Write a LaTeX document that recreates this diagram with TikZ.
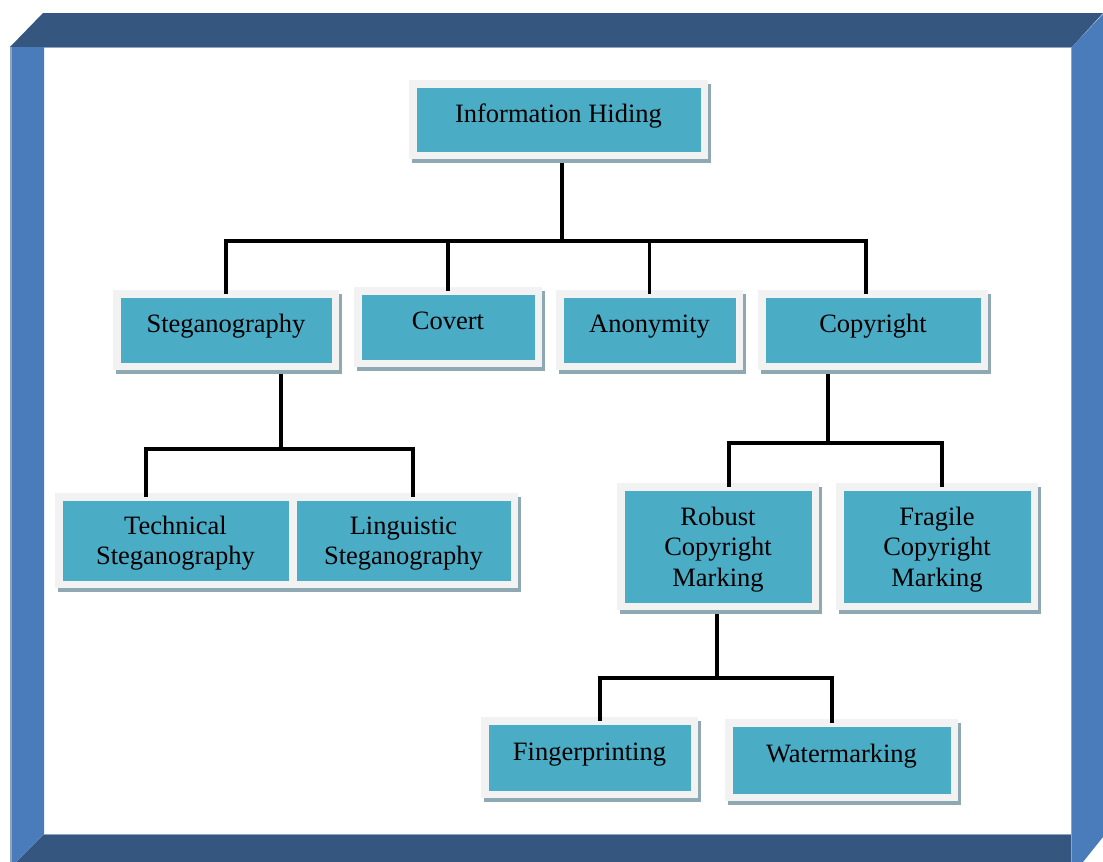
\documentclass[tikz,border=0pt]{standalone}
\usepackage{fontspec}
\setmainfont{Liberation Serif}
\usetikzlibrary{shadows}

\definecolor{framedark}{HTML}{34567F}
\definecolor{framelight}{HTML}{4A7CBB}
\definecolor{frameedge}{HTML}{8FA4C2}
\definecolor{boxfill}{HTML}{4BACC6}
\definecolor{boxrim}{HTML}{F2F2F2}
\definecolor{boxshade}{HTML}{8EA9B3}

\tikzset{
  tbox/.style={fill=boxrim, inner sep=0pt, outer sep=0pt, align=center,
    font=\fontsize{26.5}{30.5}\selectfont,
    drop shadow={shadow xshift=3pt, shadow yshift=-4pt, fill=boxshade, opacity=1},
    path picture={\fill[boxfill]
      ([shift={(7.5pt,7.5pt)}]path picture bounding box.south west) rectangle
      ([shift={(-7.5pt,-7.5pt)}]path picture bounding box.north east);}},
  oneline/.style={text height=18.5pt, text depth=13pt},
  twolines/.style={text height=54.6pt, text depth=5.75pt},
  threelines/.style={text height=85.1pt, text depth=5.75pt},
  conn/.style={draw=black, line width=3.2pt}
}

\begin{document}
\begin{tikzpicture}[x=1pt,y=-1pt]
\useasboundingbox (0,0) rectangle (1103,862);

% bevelled frame
\fill[framedark]  (10,47) -- (43,13) -- (1103,13) -- (1072,47) -- cycle;
\fill[framelight] (1072,47) -- (1103,14) -- (1103,837) -- (1083,862) -- (1071,862) -- cycle;
\fill[framedark]  (44,834) -- (1071,834) -- (1071,862) -- (16,862) -- cycle;
\fill[framelight] (10,47) -- (44,47) -- (44,834) -- (16,862) -- (10,862) -- cycle;
\draw[frameedge, line width=2pt] (11,47) -- (11,862);
\draw[frameedge, line width=1.2pt] (44,47.6) -- (1071,47.6);
\draw[frameedge, line width=1.2pt] (1071.6,47) -- (1071.6,862);
\draw[frameedge, line width=1.2pt] (44,834.4) -- (1071,834.4);

% boxes
\node[tbox, oneline, minimum width=299pt, minimum height=79pt] (ih) at (558.5,119.5) {Information Hiding};

\node[tbox, oneline, minimum width=226pt, minimum height=80pt] (steg) at (226,330) {Steganography};
\node[tbox, oneline, minimum width=188pt, minimum height=80pt] (cov)  at (448,327) {Covert};
\node[tbox, oneline, minimum width=187pt, minimum height=80pt] (anon) at (649.5,330) {Anonymity};
\node[tbox, oneline, minimum width=230pt, minimum height=80pt] (copy) at (873,330) {Copyright};

\node[tbox, twolines, minimum width=241pt, minimum height=95pt] (tech) at (175.5,540.5) {Technical\\Steganography};
\node[tbox, twolines, minimum width=229pt, minimum height=95pt] (ling) at (403.5,540.5) {Linguistic\\Steganography};

\node[tbox, threelines, minimum width=202pt, minimum height=127pt] (rob)  at (718,546.5) {Robust\\Copyright\\Marking};
\node[tbox, threelines, minimum width=202pt, minimum height=127pt] (frag) at (937,546.5) {Fragile\\Copyright\\Marking};

\node[tbox, oneline, minimum width=217pt, minimum height=81pt] (fing)  at (589.5,757.5) {Fingerprinting};
\node[tbox, oneline, minimum width=233pt, minimum height=82pt] (water) at (841.5,760) {Watermarking};

% junctions
\coordinate (j1) at (562,241);
\coordinate (j2) at (281,449);
\coordinate (j3) at (828,443);
\coordinate (j4) at (717,678);

% connectors
\draw[conn] ([xshift=3.5pt,yshift=-4pt]ih.south) -- (j1);
\draw[conn] ([yshift=-4pt]steg.north) |- (j1) -| ([xshift=-7pt,yshift=-4pt]copy.north);
\draw[conn] ([yshift=-4pt]cov.north) -- (cov.north |- j1);
\draw[conn] ([yshift=-4pt]anon.north) -- (anon.north |- j1);

\draw[conn] ([xshift=55pt,yshift=-4pt]steg.south) -- (j2);
\draw[conn] ([xshift=-29.5pt,yshift=-4pt]tech.north) |- (j2) -| ([xshift=9.5pt,yshift=-4pt]ling.north);

\draw[conn] ([xshift=-45pt,yshift=-4pt]copy.south) -- (j3);
\draw[conn] ([xshift=11pt,yshift=-4pt]rob.north) |- (j3) -| ([xshift=5pt,yshift=-4pt]frag.north);

\draw[conn] ([xshift=-1pt,yshift=-4pt]rob.south) -- (j4);
\draw[conn] ([xshift=10.5pt,yshift=-4pt]fing.north) |- (j4) -| ([xshift=-9.5pt,yshift=-4pt]water.north);
\end{tikzpicture}
\end{document}
